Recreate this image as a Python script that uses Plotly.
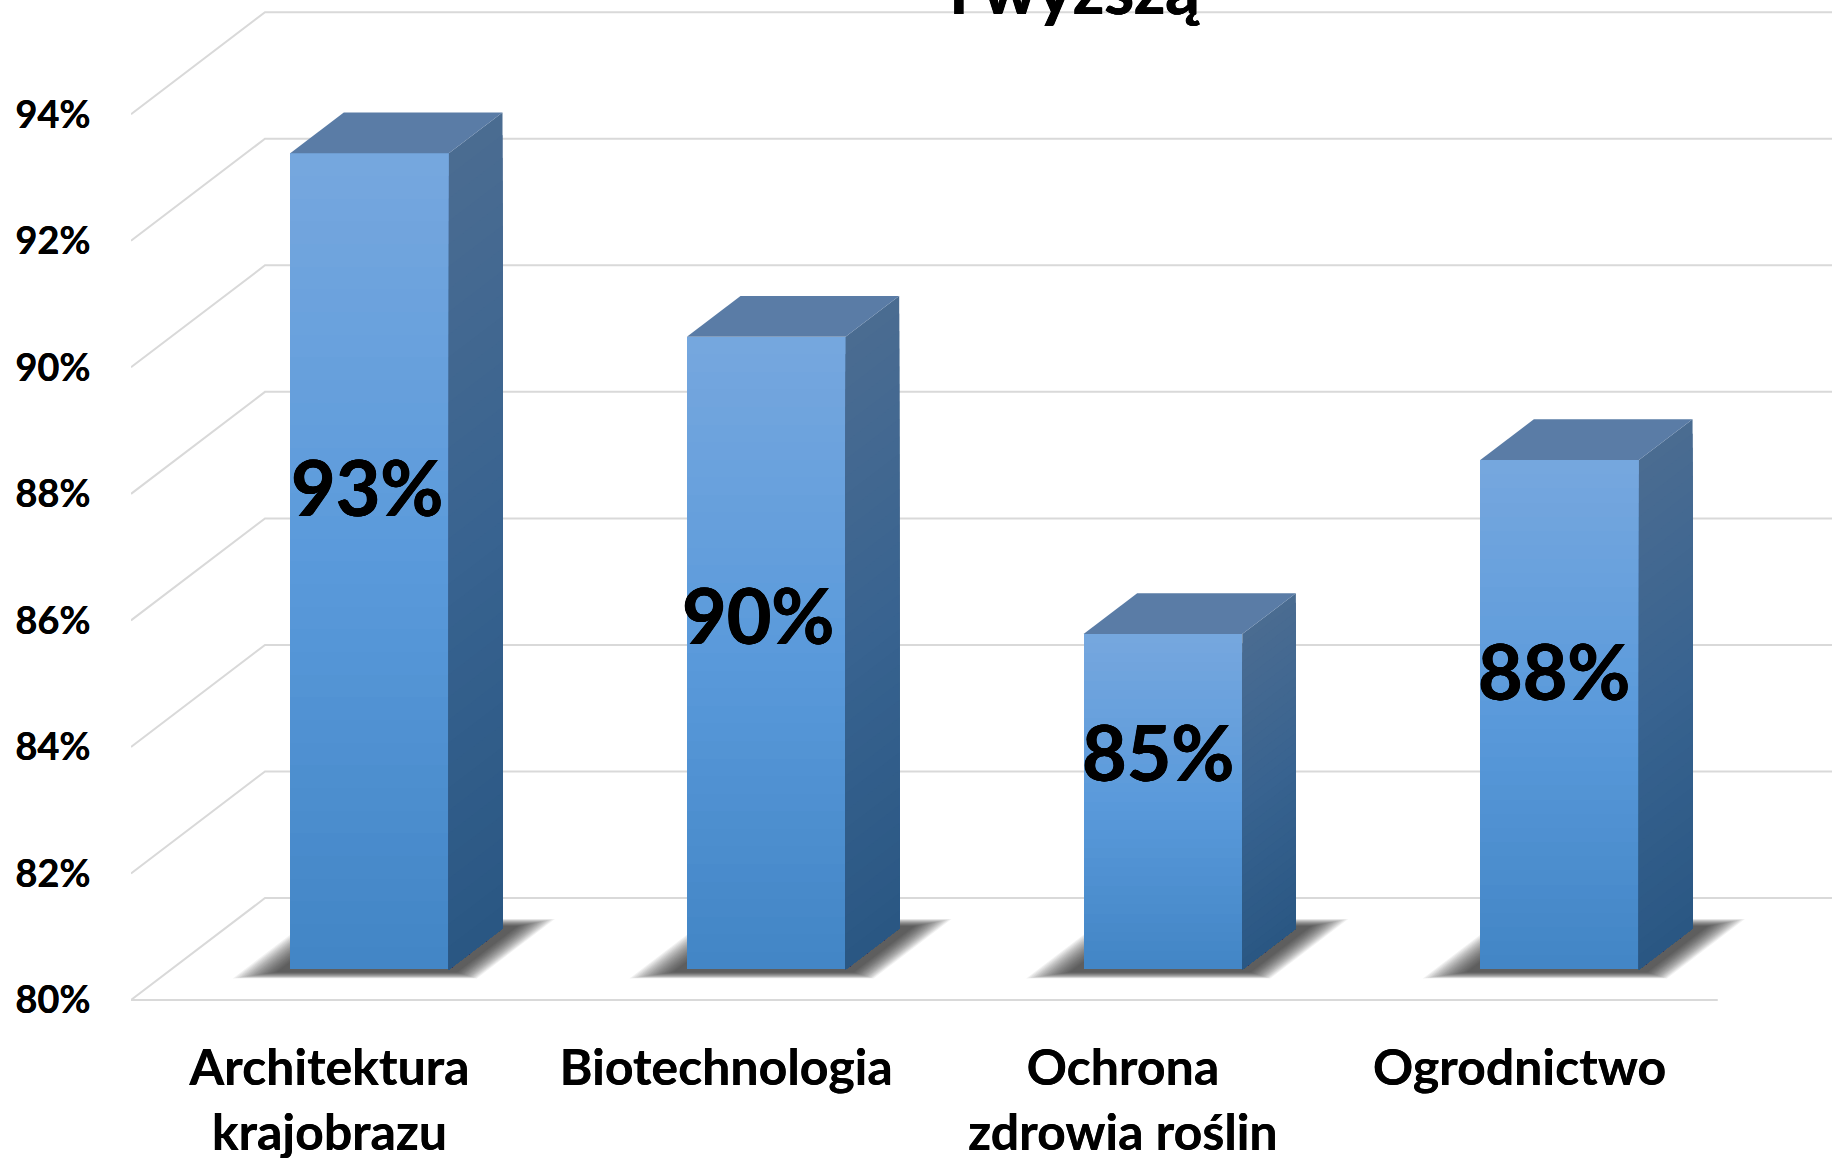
import plotly.graph_objects as go

# ---- data ----
categories = ["Architektura<br>krajobrazu", "Biotechnologia", "Ochrona<br>zdrowia roślin", "Ogrodnictwo"]
bar_values = [92.9, 90.0, 85.3, 88.05]
bar_labels = ["93%", "90%", "85%", "88%"]
y_ticks = [80, 82, 84, 86, 88, 90, 92, 94]
y_tick_labels = ["80%", "82%", "84%", "86%", "88%", "90%", "92%", "94%"]
title_text = "i wyższą"

# ---- style / layout ----
W, H = 1832, 1158
LEFT = 131
X_RANGE = [-0.5, 3.788]
Y_RANGE = [77.503, 95.805]
DX, DY = 0.3378, 1.612          # full chart depth in axis units
D0, D1 = 0.30, 0.70             # bar front and back depth fractions
BAR_W = 0.40
N = 36
GRID = "#D9D9D9"
FONT = "Lato"
THICK = "0.5px 0 0 black, -0.5px 0 0 black, 0 0.4px 0 black"
LABEL_SHIFT_X = [-3, -8, -5, -6]
LABEL_SHIFT_Y = [75, 39, 51, 45]


def hex2rgb(h):
    return tuple(int(h[i:i + 2], 16) for i in (1, 3, 5))


def ramp(stops, t):
    for (t0, c0), (t1, c1) in zip(stops, stops[1:]):
        if t <= t1:
            f = (t - t0) / (t1 - t0)
            a, b = hex2rgb(c0), hex2rgb(c1)
            return "rgb(%d,%d,%d)" % tuple(round(a[i] + (b[i] - a[i]) * f) for i in range(3))
    return stops[-1][1]


FRONT = [(0, "#76A7DE"), (0.5, "#5A9ADB"), (1, "#4285C5")]
SIDE = [(0, "#4B6C91"), (0.5, "#386390"), (1, "#2A5783")]
TOP = "#5A7CA6"


def floor_pt(x, d, v=80.0):
    return x + d * DX, v + d * DY


fig = go.Figure()

# walls / floor gridlines
for v in y_ticks:
    xb, yb = floor_pt(-0.5, 1, v)
    fig.add_trace(go.Scatter(x=[-0.5, xb, 3.5 + DX], y=[v, yb, yb], mode="lines",
                             line=dict(color=GRID, width=2), xaxis="x", yaxis="y"))
fig.add_trace(go.Scatter(x=[-0.5, 3.5], y=[y_ticks[0]] * 2, mode="lines",
                         line=dict(color=GRID, width=2), xaxis="x", yaxis="y"))

# soft shadows on the floor
SHADOW_LAYERS = 20
for i in range(len(bar_values)):
    for k in range(SHADOW_LAYERS):
        t = k / (SHADOW_LAYERS - 1)
        xl = i + (-0.315 + 0.09 * t)
        xr = i + (0.30 - 0.07 * t)
        d0 = 0.212 + 0.06 * t
        d1 = 0.795 - 0.07 * t
        pts = [floor_pt(xl, d0), floor_pt(xr, d0), floor_pt(xr, d1), floor_pt(xl, d1), floor_pt(xl, d0)]
        fig.add_trace(go.Scatter(x=[p[0] for p in pts], y=[p[1] for p in pts], mode="lines",
                                 fill="toself", fillcolor="rgba(30,30,30,0.06)",
                                 line=dict(width=0), xaxis="x", yaxis="y"))

# bar front faces (gradient built from stacked slices of each value)
for i, v in enumerate(bar_values):
    base = 80 + D0 * DY
    top = v + D0 * DY
    step = (top - base) / N
    bases, heights, cols = [], [], []
    for s in range(N):
        bases.append(top - (s + 1) * step)
        heights.append(step * 1.15 if s > 0 else step)
        cols.append(ramp(FRONT, (s + 0.5) / N))
    fig.add_trace(go.Bar(x=[i + D0 * DX] * N, base=bases[::-1], y=heights[::-1], width=BAR_W,
                         marker=dict(color=cols[::-1], line=dict(width=0)),
                         xaxis="x2", yaxis="y2"))

# side and top faces
for i, v in enumerate(bar_values):
    xl = i - BAR_W / 2 + D0 * DX
    xr = i + BAR_W / 2 + D0 * DX
    base = 80 + D0 * DY
    top = v + D0 * DY
    dd_x = (D1 - D0) * DX
    dd_y = (D1 - D0) * DY
    step = (top - base) / N
    for s in range(N):
        y_hi = top - s * step
        fig.add_trace(go.Scatter(
            x=[xr, xr + dd_x, xr + dd_x, xr, xr],
            y=[y_hi, y_hi + dd_y, base + dd_y, base, y_hi],
            mode="lines", fill="toself", fillcolor=ramp(SIDE, (s + 0.5) / N),
            line=dict(width=0), xaxis="x2", yaxis="y2"))
    fig.add_trace(go.Scatter(
        x=[xl, xr, xr + dd_x, xl + dd_x, xl],
        y=[top, top, top + dd_y, top + dd_y, top],
        mode="lines", fill="toself", fillcolor=TOP,
        line=dict(width=0), xaxis="x2", yaxis="y2"))

# value labels
for i, (v, lab) in enumerate(zip(bar_values, bar_labels)):
    fig.add_annotation(x=i + D0 * DX, y=(v + 80) / 2 + D0 * DY, xref="x2", yref="y2", text=lab,
                       showarrow=False, xshift=LABEL_SHIFT_X[i], yshift=LABEL_SHIFT_Y[i],
                       font=dict(family=FONT, size=77, color="black", weight="bold", shadow=THICK))

AXIS_POS = (H - 1000) / H
fig.update_layout(
    width=W, height=H,
    margin=dict(l=LEFT, r=0, t=0, b=0, pad=0),
    paper_bgcolor="white", plot_bgcolor="white",
    showlegend=False, hovermode=False, barmode="overlay", bargap=0,
    title=dict(text=title_text, x=1075 / W, xanchor="center", xref="container", y=(H - 14) / H,
               yref="container", yanchor="bottom", automargin=False,
               font=dict(family=FONT, size=68, color="black", weight="bold", shadow=THICK)),
    xaxis=dict(range=X_RANGE, domain=[0, 1], anchor="free", position=AXIS_POS, showgrid=False, zeroline=False,
               showline=False, tickmode="array", tickvals=[0, 1, 2, 3], ticktext=categories, automargin=False,
               ticks="outside", ticklen=24, tickcolor="rgba(0,0,0,0)", tickangle=0,
               tickfont=dict(family=FONT, size=50, color="black", weight="bold", shadow="0.3px 0 0 black")),
    xaxis2=dict(range=X_RANGE, domain=[0, 1], anchor="y2", overlaying="x", visible=False, automargin=False),
    yaxis=dict(range=Y_RANGE, domain=[0, 1], showgrid=False, zeroline=False, showline=False, automargin=False,
               tickmode="array", tickvals=y_ticks, ticktext=y_tick_labels,
               ticks="outside", ticklen=32, tickcolor="rgba(0,0,0,0)",
               tickfont=dict(family=FONT, size=38, color="black", weight="bold", shadow="0.3px 0 0 black")),
    yaxis2=dict(range=Y_RANGE, domain=[0, 1], anchor="x2", overlaying="y", visible=False, automargin=False),
)
fig.write_html("out.html", config={"displayModeBar": False},
               default_width="1832px", default_height="1158px",
               post_script="document.body.style.margin='0';document.body.style.overflow='hidden';")
